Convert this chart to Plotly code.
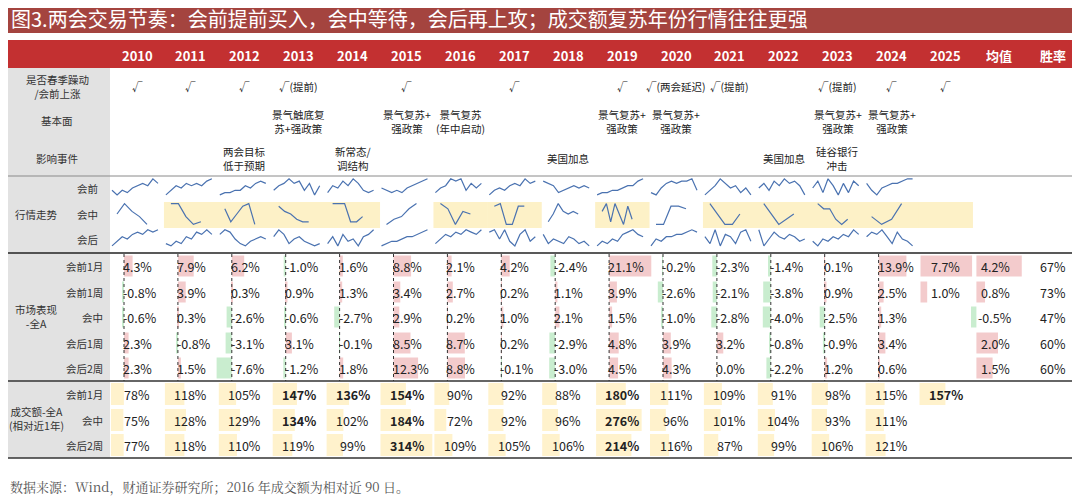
import plotly.graph_objects as go

# ---- data ----
years = ["2010", "2011", "2012", "2013", "2014", "2015", "2016", "2017", "2018",
         "2019", "2020", "2021", "2022", "2023", "2024", "2025"]
extra_cols = ["均值", "胜率"]

spring = ["√", "√", "√", "√(提前)", "", "√", "", "√", "", "√", "√(两会延迟)",
          "√(提前)", "", "√(提前)", "√", "√"]
fundamentals = ["", "", "", "景气触底复<br>苏+强政策", "", "景气复苏+<br>强政策",
                "景气复苏<br>(年中启动)", "", "", "景气复苏+<br>强政策", "景气复苏+<br>强政策",
                "", "", "景气复苏+<br>强政策", "景气复苏+<br>强政策", ""]
events = ["", "", "两会目标<br>低于预期", "", "新常态/<br>调结构", "", "", "", "美国加息",
          "", "", "", "美国加息", "硅谷银行<br>冲击", "", ""]

# sparkline shapes (relative index level)
spark_pre = [
    [3, 1, 3, 2, 4, 5, 6, 5, 8, 6], [1, 3, 5, 4, 6, 5, 6, 5, 7, 8], [1, 2, 2, 3, 3, 5, 4, 6, 7, 6],
    [3, 5, 6, 8, 6, 7, 3, 6, 1, 5], [2, 5, 4, 7, 5, 8, 6, 3, 2, 3], [4, 3, 2, 3, 2, 4, 5, 6, 7, 8],
    [2, 4, 5, 8, 7, 8, 3, 6, 4, 6], [1, 3, 4, 3, 5, 6, 5, 8, 6, 7], [7, 6, 5, 2, 3, 4, 5, 4, 5, 4],
    [1, 2, 2, 3, 3, 4, 5, 5, 7, 8], [2, 1, 4, 6, 7, 6, 7, 7, 8, 3], [1, 3, 5, 8, 6, 4, 5, 2, 4, 1],
    [4, 6, 3, 7, 5, 8, 6, 7, 5, 1], [4, 7, 2, 8, 5, 1, 6, 2, 7, 5], [6, 3, 1, 4, 5, 6, 6, 7, 8, 8],
]
spark_mid = [
    [4, 8, 5, 3, 0], [8, 8, 3, 0, 1], [6, 1, 4, 7, 8, 0], [7, 5, 4, 2, 1, 1], [8, 8, 8, 1, 1, 3],
    [0, 2, 3, 6, 8], [8, 6, 0, 5, 4], [7, 8, 0, 0, 7, 7], [1, 4, 8, 5, 4, 5, 4], [5, 8, 1, 8, 4, 0, 7, 2],
    [0, 0, 7, 7, 6], [8, 4, 0, 0, 4], [8, 0, 4], [8, 6, 6, 2, 0, 2], [3, 0, 2, 8],
]
spark_post = [
    [1, 3, 5, 4, 6, 7, 6, 8, 7, 8], [2, 1, 3, 2, 5, 4, 7, 6, 8, 6], [6, 8, 7, 4, 2, 1, 3, 4, 5, 4],
    [5, 8, 6, 2, 4, 5, 3, 2, 1, 2], [2, 5, 1, 6, 3, 4, 1, 5, 6, 8], [1, 2, 3, 3, 4, 5, 5, 6, 7, 8],
    [2, 4, 6, 5, 7, 6, 8, 7, 6, 8], [7, 8, 4, 8, 3, 1, 6, 8, 3, 5], [6, 2, 4, 3, 2, 5, 4, 2, 3, 1],
    [1, 3, 2, 4, 3, 6, 7, 8, 6, 5], [1, 4, 3, 5, 5, 6, 6, 7, 8, 7], [5, 2, 8, 1, 6, 5, 2, 7, 8, 3],
    [8, 1, 4, 7, 5, 4, 6, 5, 3, 4], [3, 1, 4, 3, 5, 4, 6, 5, 8, 6], [5, 7, 6, 8, 5, 2, 7, 4, 3, 1],
]
mid_highlight = ["2011", "2012", "2013", "2014", "2016", "2017", "2019",
                 "2021", "2022", "2023", "2024", "2025"]

mkt_labels = ["会前1月", "会前1周", "会中", "会后1周", "会后2周"]
pre_1m = [4.3, 7.9, 6.2, -1.0, 1.6, 8.8, 2.1, 4.2, -2.4, 21.1, -0.2, -2.3, -1.4, 0.1, 13.9, 7.7]
pre_1w = [-0.8, 3.9, 0.3, 0.9, 1.3, 3.4, 2.7, 0.2, 1.1, 3.9, -2.6, -2.1, -3.8, 0.9, 2.5, 1.0]
during = [-0.6, 0.3, -2.6, -0.6, -2.7, 2.9, 0.2, 1.0, 2.1, 1.5, -1.0, -2.8, -4.0, -2.5, 1.3, None]
post_1w = [2.3, -0.8, -3.1, 3.1, -0.1, 8.5, 8.7, 0.2, -2.9, 4.8, 3.9, 3.2, -0.8, -0.9, 3.4, None]
post_2w = [2.3, 1.5, -7.6, -1.2, 1.8, 12.3, 8.8, -0.1, -3.0, 4.5, 4.3, 0.0, -2.2, 1.2, 0.6, None]
mkt_avg = [4.2, 0.8, -0.5, 2.0, 1.5]
mkt_win = [67, 73, 47, 60, 60]

turn_labels = ["会前1月", "会中", "会后2周"]
turn_pre = [78, 118, 105, 147, 136, 154, 90, 92, 88, 180, 111, 109, 91, 98, 115, 157]
turn_mid = [75, 128, 129, 134, 102, 184, 72, 92, 96, 276, 96, 101, 104, 93, 111, None]
turn_post = [77, 118, 110, 119, 99, 314, 109, 105, 106, 214, 116, 87, 99, 106, 121, None]

# ---- layout helpers (pixel space) ----
W, H = 1080, 502
PAD = 8  # page body margin
X0, STEP = 137, 53.9
FONT = "Noto Sans CJK SC"
RED_BAR, GREEN_BAR, YELLOW = "#f3cbcc", "#c9edcf", "#fff2cc"


def cx(i):
    return X0 + i * STEP


fig = go.Figure()
shapes, ann = [], []


def text(x, y, s, size=11, color="#222", anchor="center", bold=False, font=FONT):
    ann.append(dict(x=x, y=y, text=f"<b>{s}</b>" if bold else s, showarrow=False,
                    xanchor=anchor, yanchor="middle",
                    font=dict(size=size, color=color, family=font)))


def rect(x0, y0, x1, y1, color):
    shapes.append(dict(type="rect", x0=x0, x1=x1, y0=y0, y1=y1, fillcolor=color,
                       line_width=0, layer="below"))


def hline(y, color, w=1):
    shapes.append(dict(type="line", x0=0, x1=W, y0=y, y1=y, line=dict(color=color, width=w)))


# title and header bands
rect(4, 3, 1077, 33, "#a4443f")
text(9, 18, "图3.两会交易节奏：会前提前买入，会中等待，会后再上攻；成交额复苏年份行情往往更强",
     size=20, color="white", anchor="left")
rect(4, 40, 1077, 68, "#c33031")
for i, lab in enumerate(years + extra_cols):
    text(cx(i), 55, lab, size=13, color="white", bold=True)

# grey label column
rect(0, 68, 110, 458, "#e2e2e2")
hline(176, "#8a8a8a")
hline(253, "#222", 1.5)
hline(381, "#333", 1.5)
hline(458, "#333", 1.5)

# qualitative rows
text(57, 86, "是否春季躁动<br>/会前上涨", size=10.5, color="#333")
text(57, 120, "基本面", size=10.5, color="#333")
text(57, 158, "影响事件", size=10.5, color="#333")
for i in range(len(years)):
    if spring[i]:
        text(cx(i), 86, spring[i], size=10.5)
    if fundamentals[i]:
        text(cx(i), 121, fundamentals[i], size=10.5)
    if events[i]:
        text(cx(i), 158, events[i], size=10.5)

# sparklines
text(36, 214, "行情走势", size=10.5, color="#333")
for lab, y in [("会前", 188), ("会中", 214), ("会后", 239)]:
    text(100, y, lab, size=10.5, color="#333", anchor="right")
for yr in mid_highlight:
    i = years.index(yr)
    rect(cx(i) - STEP / 2, 202, cx(i) + STEP / 2 + 0.5, 228, "#fdf1c7")
for series, yc, amp, x_off, width in [(spark_pre, 188, 2.3, -25, 46),
                                      (spark_mid, 214, 2.6, -20, 30),
                                      (spark_post, 239, 2.3, -25, 46)]:
    for i, vals in enumerate(series):
        n = len(vals)
        xs = [cx(i) + x_off + width * k / (n - 1) for k in range(n)]
        ys = [yc + (4 - v) * amp for v in vals]
        fig.add_trace(go.Scatter(x=xs, y=ys, mode="lines", hoverinfo="skip",
                                 line=dict(color="#4a72b0", width=1.2), showlegend=False))

# market performance rows
text(36, 316, "市场表现<br>-全A", size=10.5, color="#333")
mkt_rows = [pre_1m, pre_1w, during, post_1w, post_2w]
mkt_y = [266, 292, 317, 343, 368]
bx, bb, bw, bc = [], [], [], []
for r, (row, y) in enumerate(zip(mkt_rows, mkt_y)):
    text(105, y, mkt_labels[r], size=10.5, color="#333", anchor="right")
    for i, v in enumerate(row):
        if v is None:
            continue
        if i < 15:
            axis = cx(i) - 13
            bx.append(v * 2.0); bb.append(axis); bw.append(y)
            bc.append(RED_BAR if v >= 0 else GREEN_BAR)
            text(axis - 3, y, f"{v:.1f}%", size=12.5, anchor="left")
        else:
            axis = cx(i) - 25
            bx.append(v * 6.7); bb.append(axis); bw.append(y)
            bc.append(RED_BAR if v >= 0 else GREEN_BAR)
            text(cx(i), y, f"{v:.1f}%", size=12.5)
    a = mkt_avg[r]
    axis = cx(16) - 23
    bx.append(a * 10.8); bb.append(axis); bw.append(y)
    bc.append(RED_BAR if a >= 0 else GREEN_BAR)
    text(cx(16) - 4, y, f"{a:.1f}%", size=12.5)
    text(cx(17), y, f"{mkt_win[r]}%", size=12.5)
fig.add_trace(go.Bar(x=bx, base=bb, y=bw, orientation="h", width=21,
                     marker=dict(color=bc, line_width=0), hoverinfo="skip", showlegend=False))
for i in range(15):
    shapes.append(dict(type="line", x0=cx(i) - 13, x1=cx(i) - 13, y0=254, y1=381,
                       line=dict(color="#333", width=1, dash="dot")))

# turnover rows
text(36, 418, "成交额-全A<br>(相对近1年)", size=10.5, color="#333")
turn_rows = [turn_pre, turn_mid, turn_post]
turn_y = [394, 420, 445]
tx, tb, ty = [], [], []
for r, (row, y) in enumerate(zip(turn_rows, turn_y)):
    text(105, y, turn_labels[r], size=10.5, color="#333", anchor="right")
    for i, v in enumerate(row):
        if v is None:
            continue
        tx.append(v * 0.165); tb.append(cx(i) - 26); ty.append(y)
        text(cx(i), y, f"{v}%", size=12.5, bold=v > 130)
fig.add_trace(go.Bar(x=tx, base=tb, y=ty, orientation="h", width=22,
                     marker=dict(color=YELLOW, line_width=0), hoverinfo="skip", showlegend=False))

# source note
text(8, 486, "数据来源：Wind，财通证券研究所；2016 年成交额为相对近 90 日。", size=13,
     color="#555", anchor="left", font="Noto Serif CJK SC, serif")

fig.update_layout(
    width=W, height=H, margin=dict(l=0, r=0, t=0, b=0),
    plot_bgcolor="white", paper_bgcolor="white", barmode="overlay",
    xaxis=dict(range=[PAD, W + PAD], visible=False, fixedrange=True),
    yaxis=dict(range=[H + PAD, PAD], visible=False, fixedrange=True),
    shapes=shapes, annotations=ann,
)
fig.write_html("out.html")
